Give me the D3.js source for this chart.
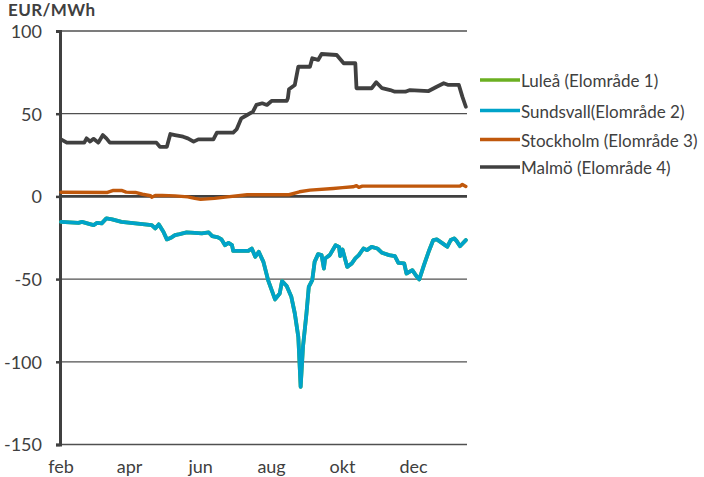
<!DOCTYPE html>
<html>
<head>
<meta charset="utf-8">
<script src="https://cdn.jsdelivr.net/npm/d3@7"></script>
<style>
  html, body { margin: 0; padding: 0; background: #fff; }
  svg { display: block; font-family: Lato, "Open Sans", sans-serif; }
</style>
</head>
<body>
<svg id="chart" width="704" height="477"></svg>
<script>
// Price difference per bidding zone, EUR/MWh
const unitLabel = "EUR/MWh";
const yTicks = [100, 50, 0, -50, -100, -150];
const xTickDates = ["2014-02-01", "2014-04-01", "2014-06-01", "2014-08-01", "2014-10-01", "2014-12-01"];
const xTickLabels = ["feb", "apr", "jun", "aug", "okt", "dec"];

const seriesNames = ["Luleå (Elområde 1)", "Sundsvall(Elområde 2)", "Stockholm (Elområde 3)", "Malmö (Elområde 4)"];
const seriesColors = ["#6BAF21", "#00A3C9", "#C0580C", "#404040"];

const sundsvall = [
  ["2014-02-01",-15.4],["2014-02-16",-16.0],["2014-02-19",-15.4],["2014-03-01",-17.4],["2014-03-04",-16.0],
  ["2014-03-08",-16.3],["2014-03-12",-13.3],["2014-03-17",-13.9],["2014-03-25",-15.4],["2014-04-06",-16.3],
  ["2014-04-20",-17.4],["2014-04-23",-19.4],["2014-04-26",-16.9],["2014-04-30",-21.4],["2014-05-03",-26.0],
  ["2014-05-07",-24.8],["2014-05-10",-23.4],["2014-05-14",-22.8],["2014-05-20",-21.8],["2014-05-27",-22.0],
  ["2014-06-02",-22.4],["2014-06-08",-21.8],["2014-06-11",-24.0],["2014-06-16",-24.8],["2014-06-19",-26.0],
  ["2014-06-22",-29.5],["2014-06-25",-28.1],["2014-06-28",-29.5],["2014-06-29",-32.9],["2014-07-12",-32.9],
  ["2014-07-15",-31.5],["2014-07-18",-36.5],["2014-07-21",-33.5],["2014-07-25",-39.6],["2014-07-29",-50.6],
  ["2014-08-04",-62.3],["2014-08-08",-58.7],["2014-08-10",-51.2],["2014-08-14",-54.2],["2014-08-18",-60.7],
  ["2014-08-21",-70.8],["2014-08-24",-85.0],["2014-08-26",-115.2],["2014-08-28",-91.0],["2014-08-31",-70.8],
  ["2014-09-02",-54.7],["2014-09-05",-50.6],["2014-09-07",-39.6],["2014-09-10",-34.9],["2014-09-13",-35.5],
  ["2014-09-15",-43.6],["2014-09-16",-37.5],["2014-09-20",-35.5],["2014-09-25",-29.5],["2014-09-28",-30.5],
  ["2014-09-29",-36.1],["2014-10-01",-32.1],["2014-10-05",-42.6],["2014-10-09",-40.5],["2014-10-12",-37.5],
  ["2014-10-15",-35.5],["2014-10-19",-31.5],["2014-10-22",-32.5],["2014-10-26",-30.5],["2014-10-31",-31.5],
  ["2014-11-04",-34.1],["2014-11-10",-35.5],["2014-11-15",-36.1],["2014-11-18",-40.2],["2014-11-23",-40.5],
  ["2014-11-25",-46.6],["2014-11-30",-44.6],["2014-12-04",-48.6],["2014-12-06",-50.2],["2014-12-10",-41.6],
  ["2014-12-14",-33.5],["2014-12-18",-26.4],["2014-12-21",-26.0],["2014-12-26",-28.4],["2014-12-30",-30.5],
  ["2015-01-02",-26.4],["2015-01-05",-25.4],["2015-01-07",-26.9],["2015-01-10",-30.1],["2015-01-15",-26.4]
];

// SE1 and SE2 carried the same price over the period, so Luleå runs underneath Sundsvall
const lulea = sundsvall;

const stockholm = [
  ["2014-02-01",2.5],["2014-03-13",2.4],["2014-03-18",3.6],["2014-03-25",3.6],["2014-03-29",2.6],
  ["2014-04-06",2.4],["2014-04-12",1.3],["2014-04-19",0.4],["2014-04-20",-0.5],["2014-04-23",0.5],
  ["2014-04-29",0.6],["2014-05-10",0.3],["2014-05-21",-0.3],["2014-05-27",-1.2],["2014-06-01",-1.8],
  ["2014-06-13",-1.2],["2014-06-24",-0.3],["2014-07-11",1.0],["2014-08-16",1.0],["2014-08-25",2.8],
  ["2014-09-03",3.8],["2014-09-23",4.8],["2014-10-01",5.3],["2014-10-10",5.8],["2014-10-13",6.5],
  ["2014-10-15",5.5],["2014-10-18",6.2],["2014-10-29",6.2],["2015-01-10",6.2],["2015-01-12",7.2],
  ["2015-01-15",6.0]
];

const malmo = [
  ["2014-02-01",34.5],["2014-02-06",32.5],["2014-02-21",32.5],["2014-02-23",35.1],["2014-02-26",33.2],
  ["2014-03-01",34.8],["2014-03-05",32.5],["2014-03-09",37.1],["2014-03-12",35.1],["2014-03-15",32.5],
  ["2014-04-24",32.5],["2014-04-27",30.0],["2014-05-03",30.0],["2014-05-06",37.7],["2014-05-10",37.1],
  ["2014-05-17",36.1],["2014-05-21",35.1],["2014-05-26",33.1],["2014-05-30",34.5],["2014-06-12",34.5],
  ["2014-06-15",38.5],["2014-06-29",38.5],["2014-07-02",40.6],["2014-07-06",47.2],["2014-07-11",49.2],
  ["2014-07-16",51.2],["2014-07-19",55.3],["2014-07-24",56.3],["2014-07-28",55.3],["2014-08-01",57.7],
  ["2014-08-14",57.7],["2014-08-15",59.3],["2014-08-16",64.8],["2014-08-21",67.4],["2014-08-24",78.4],
  ["2014-09-03",78.4],["2014-09-05",83.5],["2014-09-10",82.5],["2014-09-13",86.1],["2014-09-26",85.5],
  ["2014-10-02",80.5],["2014-10-12",80.5],["2014-10-13",65.4],["2014-10-26",65.4],["2014-10-30",69.0],
  ["2014-11-04",65.4],["2014-11-11",64.3],["2014-11-15",63.3],["2014-11-24",63.3],["2014-11-28",64.3],
  ["2014-12-14",63.7],["2014-12-21",66.3],["2014-12-27",68.4],["2014-12-31",67.4],["2015-01-09",67.4],
  ["2015-01-12",60.3],["2015-01-15",54.2]
];

const seriesData = [lulea, sundsvall, stockholm, malmo];

const parse = d3.timeParse("%Y-%m-%d");
const svg = d3.select("#chart");
const textColor = "#404040";
const fontSize = "18px";

const x = d3.scaleTime()
  .domain([parse("2014-02-01"), parse("2015-01-16")])
  .range([61, 467]);
const y = d3.scaleLinear().domain([-150, 100]).range([444.5, 31]);

// horizontal gridlines
svg.append("g")
  .selectAll("line")
  .data(yTicks.filter(v => v !== 0))
  .join("line")
  .attr("x1", 60).attr("x2", 467)
  .attr("y1", d => y(d)).attr("y2", d => y(d))
  .attr("stroke", "#505050").attr("stroke-width", 1.3);

// y axis (plain hyphen for negative numbers)
const yAxis = d3.axisLeft(y)
  .tickValues(yTicks)
  .tickFormat(d => String(d))
  .tickSize(4)
  .tickPadding(14);
const gy = svg.append("g").attr("transform", "translate(60,0)").call(yAxis);
gy.select(".domain").attr("stroke", textColor).attr("stroke-width", 3);
gy.selectAll(".tick line").attr("stroke", textColor).attr("stroke-width", 2.5);
gy.selectAll(".tick text")
  .attr("fill", textColor)
  .style("font-size", fontSize)
  .style("font-family", "Lato, sans-serif")
  .attr("dy", "0.36em");

// horizontal axis line at zero
svg.append("line")
  .attr("x1", 60).attr("x2", 467)
  .attr("y1", y(0)).attr("y2", y(0))
  .attr("stroke", textColor).attr("stroke-width", 2.6);

// month labels along the bottom
svg.append("g")
  .selectAll("text")
  .data(xTickDates)
  .join("text")
  .attr("x", d => x(parse(d)))
  .attr("y", 473)
  .attr("text-anchor", "middle")
  .attr("fill", textColor)
  .style("font-size", fontSize)
  .text((d, i) => xTickLabels[i]);

// unit label
svg.append("text")
  .attr("x", 8).attr("y", 16)
  .attr("fill", textColor)
  .style("font-size", "17px")
  .style("font-weight", "bold")
  .style("letter-spacing", "0.4px")
  .text(unitLabel);

// series lines
const line = d3.line()
  .x(d => x(parse(d[0])))
  .y(d => y(d[1]))
  .curve(d3.curveLinear);

svg.append("g")
  .selectAll("path")
  .data(seriesData)
  .join("path")
  .attr("d", d => line(d))
  .attr("fill", "none")
  .attr("stroke", (d, i) => seriesColors[i])
  .attr("stroke-width", (d, i) => i === 2 ? 3.4 : 3.8)
  .attr("stroke-linejoin", "round")
  .attr("stroke-linecap", "round");

// legend
const legendY = [80, 110.5, 139.5, 167];
const legend = svg.append("g")
  .selectAll("g")
  .data(seriesNames)
  .join("g")
  .attr("transform", (d, i) => `translate(480,${legendY[i]})`);
legend.append("line")
  .attr("x1", 0).attr("x2", 40)
  .attr("stroke", (d, i) => seriesColors[i])
  .attr("stroke-width", 3.5);
legend.append("text")
  .attr("x", 41).attr("y", 7)
  .attr("fill", textColor)
  .style("font-size", "17px")
  .text(d => d);
</script>
</body>
</html>
